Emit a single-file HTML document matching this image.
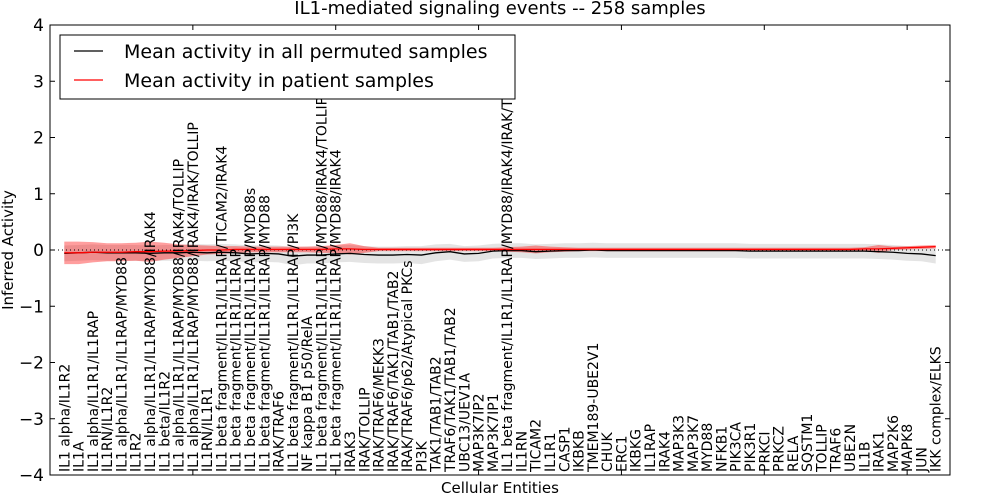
<!DOCTYPE html>
<html><head><meta charset="utf-8"><style>
html,body{margin:0;padding:0;background:#fff;}
svg{display:block;font-family:"DejaVu Sans","Liberation Sans",sans-serif;}
</style></head><body>
<svg id="chart" width="1000" height="500" xmlns="http://www.w3.org/2000/svg"></svg>
<script>
const categories = ["IL1 alpha/IL1R2","IL1A","IL1 alpha/IL1R1/IL1RAP","IL1RN/IL1R2","IL1 alpha/IL1R1/IL1RAP/MYD88","IL1R2","IL1 alpha/IL1R1/IL1RAP/MYD88/IRAK4","IL1 beta/IL1R2","IL1 alpha/IL1R1/IL1RAP/MYD88/IRAK4/TOLLIP","IL1 alpha/IL1R1/IL1RAP/MYD88/IRAK4/IRAK/TOLLIP","IL1RN/IL1R1","IL1 beta fragment/IL1R1/IL1RAP/TICAM2/IRAK4","IL1 beta fragment/IL1R1/IL1RAP","IL1 beta fragment/IL1R1/IL1RAP/MYD88s","IL1 beta fragment/IL1R1/IL1RAP/MYD88","IRAK/TRAF6","IL1 beta fragment/IL1R1/IL1RAP/PI3K","NF kappa B1 p50/RelA","IL1 beta fragment/IL1R1/IL1RAP/MYD88/IRAK4/TOLLIP","IL1 beta fragment/IL1R1/IL1RAP/MYD88/IRAK4","IRAK3","IRAK/TOLLIP","IRAK/TRAF6/MEKK3","IRAK/TRAF6/TAK1/TAB1/TAB2","IRAK/TRAF6/p62/Atypical PKCs","PI3K","TAK1/TAB1/TAB2","TRAF6/TAK1/TAB1/TAB2","UBC13/UEV1A","MAP3K7IP2","MAP3K7IP1","IL1 beta fragment/IL1R1/IL1RAP/MYD88/IRAK4/IRAK/TOLLIP","IL1RN","TICAM2","IL1R1","CASP1","IKBKB","TMEM189-UBE2V1","CHUK","ERC1","IKBKG","IL1RAP","IRAK4","MAP3K3","MAP3K7","MYD88","NFKB1","PIK3CA","PIK3R1","PRKCI","PRKCZ","RELA","SQSTM1","TOLLIP","TRAF6","UBE2N","IL1B","IRAK1","MAP2K6","MAPK8","JUN","IKK complex/ELKS"];
const permMean = [-0.06,-0.05,-0.04,-0.05,-0.05,-0.05,-0.06,-0.05,-0.05,-0.04,-0.05,-0.04,-0.05,-0.07,-0.06,-0.07,-0.11,-0.09,-0.09,-0.07,-0.06,-0.08,-0.09,-0.09,-0.08,-0.09,-0.05,-0.03,-0.07,-0.06,-0.02,-0.01,-0.01,-0.03,-0.02,-0.01,-0.01,0,-0.01,-0.01,-0.01,-0.01,-0.01,-0.01,-0.01,-0.01,-0.01,-0.01,-0.02,-0.02,-0.02,-0.02,-0.02,-0.02,-0.02,-0.02,-0.02,-0.03,-0.04,-0.06,-0.07,-0.1];
const permSd = [0.14,0.14,0.14,0.14,0.14,0.14,0.14,0.14,0.14,0.15,0.15,0.15,0.15,0.15,0.15,0.15,0.16,0.15,0.15,0.15,0.15,0.15,0.15,0.15,0.15,0.16,0.15,0.14,0.14,0.14,0.13,0.13,0.13,0.13,0.13,0.13,0.13,0.13,0.13,0.13,0.13,0.13,0.13,0.13,0.13,0.13,0.13,0.13,0.13,0.13,0.13,0.13,0.13,0.13,0.13,0.13,0.13,0.13,0.13,0.13,0.13,0.14];
const patMean = [-0.05,-0.05,-0.04,-0.04,-0.04,-0.03,-0.03,-0.02,-0.02,-0.01,0,0,0.01,0.01,0.01,0.01,0.01,0.01,0.01,0.02,0.02,0.01,0.01,0.01,0.01,0.01,0.01,0.01,0.01,0.01,0.01,0.01,0.01,0.01,0.01,0.01,0.01,0.01,0.01,0.01,0.01,0.01,0.01,0.01,0.01,0.01,0.01,0.01,0.01,0.01,0.01,0.01,0.01,0.01,0.01,0.01,0.02,0.02,0.03,0.04,0.05,0.06];
const patSd = [0.2,0.2,0.18,0.16,0.16,0.16,0.18,0.15,0.12,0.1,0.08,0.07,0.06,0.05,0.05,0.05,0.05,0.05,0.06,0.07,0.1,0.06,0.03,0.03,0.03,0.03,0.03,0.03,0.03,0.03,0.03,0.04,0.05,0.07,0.05,0.04,0.03,0.03,0.03,0.03,0.03,0.03,0.03,0.03,0.03,0.03,0.03,0.03,0.03,0.03,0.03,0.03,0.03,0.03,0.03,0.03,0.03,0.07,0.03,0.03,0.03,0.03];
const yTicks = [4,3,2,1,0,-1,-2,-3,-4];

const NS="http://www.w3.org/2000/svg";
const svg=document.getElementById('chart');
const L=50,R=950,T=25,B=475;
const xS=i=>L+(i+1)*(R-L)/(categories.length+1);
const yS=v=>T+(4-v)*(B-T)/8;
function mk(tag,attrs,parent){const e=document.createElementNS(NS,tag);for(const k in attrs)e.setAttribute(k,attrs[k]);(parent||svg).appendChild(e);return e;}

function band(mean,sd,fill,op,name){
  let d='';
  mean.forEach((m,i)=>{d+=(i?'L':'M')+xS(i)+','+yS(m+sd[i]);});
  for(let i=mean.length-1;i>=0;i--)d+='L'+xS(i)+','+yS(mean[i]-sd[i]);
  const p=mk('path',{d:d+'Z',fill:fill,'fill-opacity':op,stroke:'none'});
  
  
}
function line(vals,color,name){
  const p=mk('polyline',{points:vals.map((v,i)=>xS(i)+','+yS(v)).join(' '),fill:'none',stroke:color,'stroke-width':1.3});
  
  
}
band(permMean,permSd,'#bbbbbb',0.4,'permuted-band');
band(patMean,patSd,'#ff0000',0.38,'patient-band');
const zl=mk('line',{x1:L,x2:R,y1:yS(0),y2:yS(0),stroke:'#000','stroke-width':1,'stroke-dasharray':'1,3'});


line(permMean,'#000','permuted-mean-line');
line(patMean,'#ff0000','patient-mean-line');

const fr=mk('rect',{x:L,y:T,width:R-L,height:B-T,fill:'none',stroke:'#000','stroke-width':1});



yTicks.forEach(v=>{
  const y=yS(v);
  mk('line',{x1:L,x2:L+5,y1:y,y2:y,stroke:'#000'});
  mk('line',{x1:R-5,x2:R,y1:y,y2:y,stroke:'#000'});
  const t=mk('text',{x:L-6,y:y+6,'text-anchor':'end','font-size':17});
  t.textContent=v<0?'\u2212'+(-v):String(v);
  
  
});
for(let k=0;k<=6;k++){
  const x=L+k*10*(R-L)/(categories.length+1);
  mk('line',{x1:x,x2:x,y1:T,y2:T+5,stroke:'#000'});
  mk('line',{x1:x,x2:x,y1:B-5,y2:B,stroke:'#000'});
}
categories.forEach((c,i)=>{
  const t=mk('text',{transform:'translate('+(xS(i)+5)+','+(B-3)+') rotate(-90)','font-size':14});
  t.textContent=c;
  
  
});

const ti=mk('text',{x:500,y:14,'text-anchor':'middle','font-size':18});
ti.textContent='IL1-mediated signaling events -- 258 samples';


const xl=mk('text',{x:500,y:493,'text-anchor':'middle','font-size':15});
xl.textContent='Cellular Entities';


const yl=mk('text',{transform:'translate(13,250) rotate(-90)','text-anchor':'middle','font-size':15});
yl.textContent='Inferred Activity';



const lg=mk('g',{});


mk('rect',{x:60,y:35,width:455,height:64,fill:'#fff',stroke:'#000','stroke-width':1},lg);
[['Mean activity in all permuted samples','#000',51],['Mean activity in patient samples','#ff0000',80]].forEach(([lab,col,y],k)=>{
  const g=mk('g',{},lg);
  
  
  mk('line',{x1:74,x2:103,y1:y,y2:y,stroke:col,'stroke-width':1.3},g);
  const t=mk('text',{x:124,y:y+7,'font-size':19},g);
  t.textContent=lab;
});
</script>
</body></html>
